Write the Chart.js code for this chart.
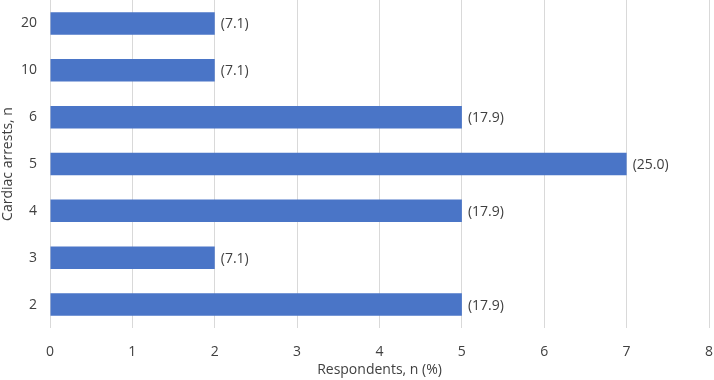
<!DOCTYPE html>
<html>
<head>
<meta charset="utf-8">
<script src="https://cdn.jsdelivr.net/npm/chart.js@4"></script>
<style>
  html, body { margin: 0; padding: 0; background: #fff; }
  #wrap { width: 714px; height: 380px; }
</style>
</head>
<body>
<div id="wrap"><canvas id="myChart"></canvas></div>
<script>
var categories = ['20', '10', '6', '5', '4', '3', '2'];
var respondents = [2, 2, 5, 7, 5, 2, 5];
var percents = ['(7.1)', '(7.1)', '(17.9)', '(25.0)', '(17.9)', '(7.1)', '(17.9)'];

var fontFamily = "'Open Sans', 'Noto Sans', sans-serif";
var textColor = '#404040';

// draws the (%) labels just right of each bar
var pctLabels = {
    id: 'pctLabels',
    afterDatasetsDraw: function(chart) {
        var ctx = chart.ctx;
        var meta = chart.getDatasetMeta(0);
        ctx.save();
        ctx.font = '14px ' + fontFamily;
        ctx.fillStyle = textColor;
        ctx.textAlign = 'left';
        ctx.textBaseline = 'middle';
        meta.data.forEach(function(bar, i) {
            ctx.fillText(percents[i], bar.x + 6, bar.y + 1);
        });
        ctx.restore();
    }
};

var ctx = document.getElementById('myChart').getContext('2d');
var myChart = new Chart(ctx, {
    type: 'bar',
    data: {
        labels: categories,
        datasets: [{
            data: respondents,
            backgroundColor: '#4a75c7',
            borderWidth: 0,
            barPercentage: 0.48,
            categoryPercentage: 1
        }]
    },
    plugins: [pctLabels],
    options: {
        indexAxis: 'y',
        responsive: true,
        maintainAspectRatio: false,
        animation: false,
        plugins: {
            legend: { display: false },
            tooltip: { enabled: false }
        },
        layout: {
            padding: { left: 0, right: 0, top: 0, bottom: 2 }
        },
        scales: {
            x: {
                min: 0,
                max: 8,
                afterFit: function(scale) {
                    scale.paddingLeft = 0;
                    scale.paddingRight = 5;
                    scale.height = 50;
                },
                ticks: {
                    stepSize: 1,
                    color: textColor,
                    font: { family: fontFamily, size: 14 },
                    padding: 16
                },
                grid: {
                    color: '#d9d9d9',
                    drawTicks: false
                },
                border: { display: false },
                title: {
                    display: true,
                    text: 'Respondents, n (%)',
                    color: textColor,
                    font: { family: fontFamily, size: 14 },
                    padding: { top: 1, bottom: 0 }
                }
            },
            y: {
                afterFit: function(scale) {
                    scale.paddingTop = 0;
                    scale.paddingBottom = 0;
                    scale.width = 50;
                },
                ticks: {
                    color: textColor,
                    font: { family: fontFamily, size: 14 },
                    padding: 13
                },
                grid: { display: false, drawTicks: false },
                border: { display: false },
                title: {
                    display: true,
                    text: 'Cardiac arrests, n',
                    color: textColor,
                    font: { family: fontFamily, size: 14 },
                    padding: { top: 0, bottom: 4 }
                }
            }
        }
    }
});
</script>
</body>
</html>
